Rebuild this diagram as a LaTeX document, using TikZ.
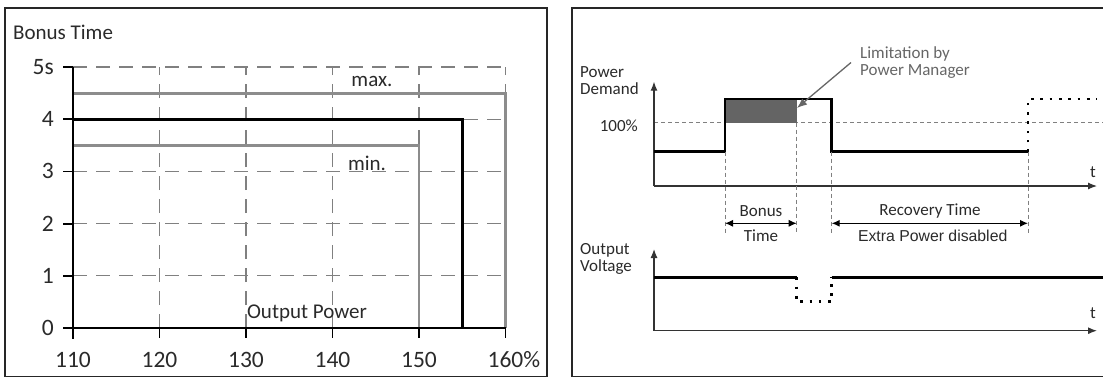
\documentclass[tikz,border=0pt]{standalone}
\usepackage{fontspec}
\setmainfont{Carlito}
\newfontfamily\arialfont{Liberation Sans}
\usetikzlibrary{arrows.meta}
\definecolor{gridgray}{HTML}{808080}
\definecolor{limgray}{HTML}{8C8C8C}
\definecolor{fillgray}{HTML}{646464}
\definecolor{txtgray}{HTML}{2A2A2A}
\definecolor{notegray}{HTML}{666666}

\begin{document}
\begin{tikzpicture}[x=1pt,y=-1pt,
  panel/.style={draw=black!85,line width=1.8pt},
  grid line/.style={draw=gridgray,line width=1.3pt,dash pattern=on 14pt off 9pt},
  limit line/.style={draw=limgray,line width=2.8pt},
  nominal line/.style={draw=black,line width=2.6pt},
  axis line/.style={draw=black,line width=1.8pt},
  tick label/.style={inner sep=0pt,text=txtgray,font=\fontsize{23.5}{28}\selectfont},
  chart label/.style={inner sep=0pt,text=txtgray,font=\fontsize{21}{25}\selectfont},
  sig label/.style={inner sep=0pt,text=txtgray,align=left,font=\fontsize{17}{17.6}\selectfont},
  time axis/.style={draw=black!80,line width=1.2pt,-{Latex[length=9pt,width=7pt]}},
  signal/.style={line width=2.6pt},
  dotted signal/.style={line width=2.6pt,dash pattern=on 2.6pt off 6.7pt},
  guide/.style={draw=gray,line width=0.9pt,dash pattern=on 4pt off 3pt},
  span arrow/.style={line width=1.1pt,{Latex[length=8pt,width=7pt]}-{Latex[length=8pt,width=7pt]}}]
\useasboundingbox (0,0) rectangle (1103,378);

% frames
\draw[panel] (5,8) rectangle (547,376.5);
\draw[panel] (1103,8) -- (572,8) -- (572,376.5) -- (1103,376.5);

% bonus time over output power
\begin{scope}[shift={(-878.5,328)},x=8.65pt,y=52.2pt]
\foreach \v in {1,...,5}
  \draw[grid line] (110,\v) -- (160,\v);
\foreach \p in {120,130,...,160}
  \draw[grid line] (\p,0) -- (\p,5);

\draw[limit line] (110,4.5) -- (160,4.5) -- (160,0);
\draw[limit line] (110,3.5) -- (150,3.5) -- (150,0);
\draw[nominal line] (110,4) -- (155,4) -- (155,0);

\draw[axis line] (110,5) -- (110,0) -- ([yshift=-11pt]110,0);
\draw[axis line] (160,0) -- (110,0);
\foreach \v/\l in {0/0,1/1,2/2,3/3,4/4,5/5s}{
  \draw[axis line] (110,\v) -- ([xshift=-10pt]110,\v);
  \node[tick label,anchor=east] (y\v) at ([xshift=-19pt]110,\v) {\l};
}
\foreach \p in {120,130,...,150}{
  \draw[axis line] (\p,0) -- ([yshift=-10pt]\p,0);
  \node[tick label] (x\p) at ([yshift=-32pt]\p,0) {\p};
}
\draw[axis line] (160,0) -- ([yshift=-10pt]160,0);
\node[tick label] (x110) at ([yshift=-32pt]110,0) {110};
\node[tick label] (x160) at ([yshift=-32pt]160,0) {160\rlap{\%}};
\end{scope}

\node[chart label,anchor=west] (bonustime) at (13,32) {Bonus Time};
\node[chart label] (maxlbl) at (372,81) {max.};
\node[chart label] (minlbl) at (367,163) {min.};
\node[chart label] (outpower) at (307,313) {Output Power};

% power demand
\node[sig label,anchor=west] (demand) at (580,80.5) {Power\\Demand};
\node[sig label,anchor=east] (full) at (638,126) {100\%};
\draw[guide] (654,122.7) -- (1103,122.7);
\fill[fillgray] (725,99) rectangle (796.7,122.7);
\draw[time axis] (654,186) -- (654,81.7);
\draw[time axis] (654,186) -- (1097,186);
\node[sig label] (t1) at (1093,172) {t};
\draw[signal] (654,151.7) -- (725,151.7) -- (725,99) -- (831.7,99) -- (831.7,151.7) -- (1028,151.7);
\draw[dotted signal] (1028,151.7) -- (1028,99) -- (1097,99);

\node[sig label,text=notegray,anchor=west] (limit) at (860,62.5) {Limitation by\\Power Manager};
\coordinate (limtip) at (797,108);
\draw[notegray,line width=1.3pt,-{Latex[length=10pt,width=8pt]}] ([xshift=-9pt]limit.west) -- (limtip);

% time spans
\draw[guide] (725,151.7) -- (725,233);
\draw[guide] (796.7,122.7) -- (796.7,233);
\draw[guide] (831.7,151.7) -- (831.7,233);
\draw[guide] (1028,151.7) -- (1028,233);
\draw[span arrow] (725,223.3) -- (796.7,223.3);
\draw[span arrow] (831.7,223.3) -- (1028,223.3);
\node[sig label] (bonus) at (761,211.2) {Bonus};
\node[sig label] (btime) at (761,236) {Time};
\node[sig label] (recovery) at (930,210.7) {Recovery Time};
\node[sig label,font=\arialfont\fontsize{15.8}{18}\selectfont] (extra) at (932.7,236) {Extra Power disabled};

% output voltage
\node[sig label,anchor=west] (voltage) at (580,259) {Output\\Voltage};
\draw[time axis] (654,330.7) -- (654,249);
\draw[time axis] (654,330.7) -- (1097,330.7);
\node[sig label] (t2) at (1093,313) {t};
\draw[signal] (654,277.3) -- (796.7,277.3);
\draw[dotted signal] (796.7,277.3) -- (796.7,301.7) -- (831.7,301.7) -- (831.7,277.3);
\draw[signal] (831.7,277.3) -- (1103,277.3);
\end{tikzpicture}
\end{document}
